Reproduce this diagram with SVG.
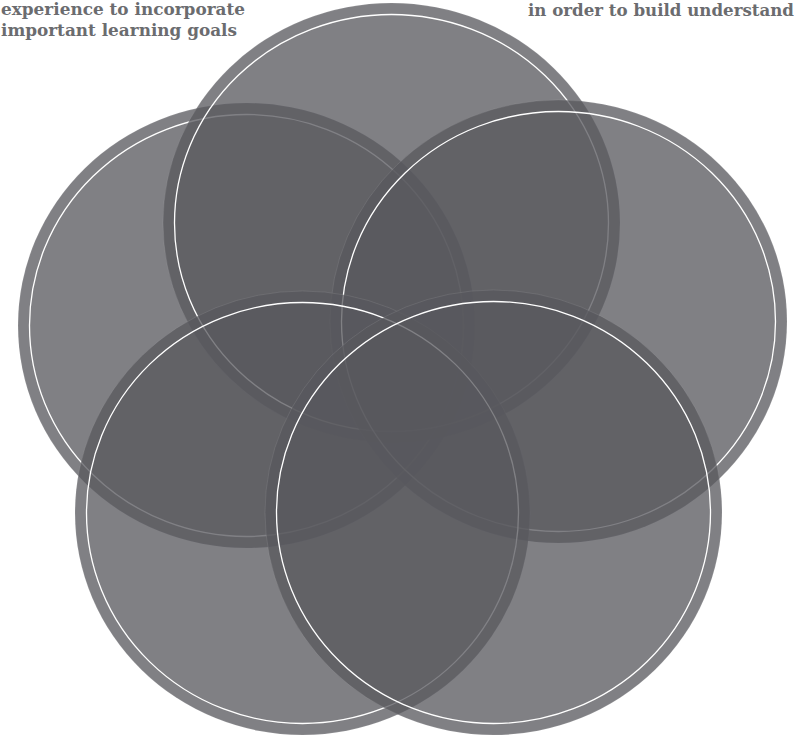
<svg xmlns="http://www.w3.org/2000/svg" width="797" height="737" viewBox="0 0 797 737">
<style>
.disc{fill:rgb(88,88,93);fill-opacity:0.76;stroke:#ffffff;stroke-opacity:0.12;stroke-width:0.8}
.ring{fill:none;stroke:#ffffff;stroke-width:1.3}
.lbl{font-family:"DejaVu Serif","Liberation Serif",serif;font-weight:bold;font-size:16.5px;fill:#6b6c6f}
</style>
<rect width="797" height="737" fill="#ffffff"/>
<g id="labels">
<text class="lbl" x="1" y="15" textLength="244" lengthAdjust="spacingAndGlyphs">experience to incorporate</text>
<text class="lbl" x="1" y="36" textLength="236" lengthAdjust="spacingAndGlyphs">important learning goals</text>
<text class="lbl" x="528" y="16" textLength="266" lengthAdjust="spacingAndGlyphs">in order to build understand</text>
</g>
<g id="circle-left">
<ellipse class="disc" cx="246.5" cy="325.5" rx="228.5" ry="222.5"/>
<ellipse class="ring" cx="246.5" cy="325.5" rx="217" ry="211"/>
</g>
<g id="circle-top">
<ellipse class="disc" cx="391.5" cy="223" rx="228.5" ry="220"/>
<ellipse class="ring" cx="391.5" cy="223" rx="217" ry="208.5"/>
</g>
<g id="circle-right">
<ellipse class="disc" cx="558.5" cy="321.5" rx="228.5" ry="221.5"/>
<ellipse class="ring" cx="558.5" cy="321.5" rx="217" ry="210"/>
</g>
<g id="circle-bottom-left">
<ellipse class="disc" cx="302.5" cy="513" rx="227.5" ry="222"/>
<ellipse class="ring" cx="302.5" cy="513" rx="216" ry="210.5"/>
</g>
<g id="circle-bottom-right">
<ellipse class="disc" cx="493.5" cy="512.5" rx="228.5" ry="222.5"/>
<ellipse class="ring" cx="493.5" cy="512.5" rx="217" ry="211"/>
</g>
<g id="connectors"></g>
</svg>
